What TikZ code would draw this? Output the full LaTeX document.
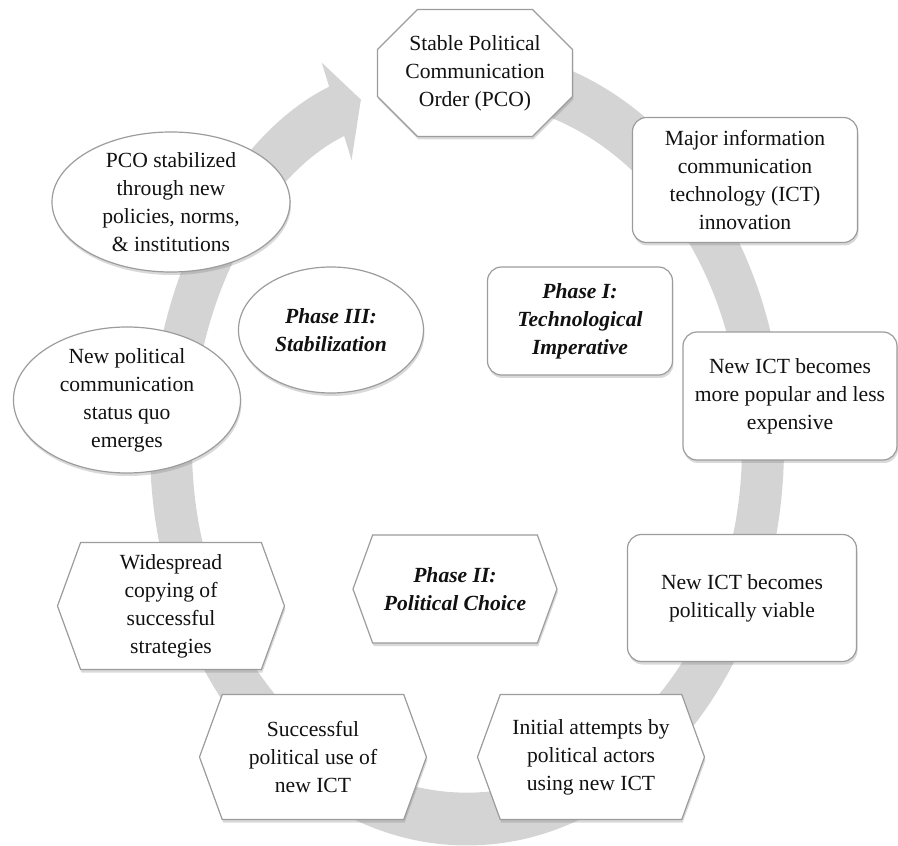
\documentclass[tikz,border=0pt]{standalone}
\usepackage{fontspec}
\setmainfont{Liberation Serif}
\usetikzlibrary{arrows.meta,shapes.geometric,shapes.misc,shapes.symbols,shadows}
\definecolor{ringgray}{HTML}{D4D4D4}
\definecolor{rim}{HTML}{9C9C9C}
\definecolor{ink}{HTML}{111111}

\begin{document}
\begin{tikzpicture}[x=1pt, y=1pt,
  font=\fontsize{21.6}{28}\selectfont, text=ink,
  stage/.style={draw=rim, line width=1.2pt, fill=white, align=center, inner sep=3pt,
    drop shadow={opacity=0.3, shadow xshift=1pt, shadow yshift=-3pt}},
  rnd/.style={stage, rounded corners=14pt},
  oct/.style={stage, chamfered rectangle, chamfered rectangle xsep=18pt, chamfered rectangle ysep=22pt},
  hex/.style={stage, signal, signal to=east and west, signal pointer angle=140},
  oval/.style={stage, ellipse, inner ysep=-4pt},
  phase/.style={font=\fontsize{21.6}{28}\selectfont\bfseries\itshape},
  cyclearrow/.style={draw=ringgray, line width=42pt, -{Triangle[length=26pt, width=82pt]}}]
  \useasboundingbox (-467,-399) rectangle (431,447);
  \begin{scope}[transform canvas={yscale=1.257}]
    \draw[cyclearrow] (90:296) arc[start angle=90, end angle=-249, radius=296];
  \end{scope}
  \node[oct, minimum width=195pt, minimum height=127pt] (pco) at (8,374) {Stable Political\\Communication\\Order (PCO)};
  \node[rnd, minimum width=225pt, minimum height=125pt] (major) at (278,267) {Major information\\communication\\technology (ICT)\\innovation};
  \node[rnd, minimum width=214pt, minimum height=128pt] (popular) at (323,51) {New ICT becomes\\more popular and less\\expensive};
  \node[rnd, minimum width=229pt, minimum height=127pt] (viable) at (275,-151) {New ICT becomes\\politically viable};
  \node[hex, minimum width=227pt, minimum height=125pt] (initial) at (124,-310) {Initial attempts by\\political actors\\using new ICT};
  \node[hex, minimum width=227pt, minimum height=125pt] (success) at (-154,-310) {Successful\\political use of\\new ICT};
  \node[hex, minimum width=227pt, minimum height=127pt] (copying) at (-296,-159) {Widespread\\copying of\\successful\\strategies};
  \node[oval, minimum width=227pt, minimum height=146pt] (statusquo) at (-340,47) {New political\\communication\\status quo\\emerges};
  \node[oval, minimum width=238pt, minimum height=140pt] (stabilized) at (-296,245) {PCO stabilized\\through new\\policies, norms,\\\& institutions};
  \node[rnd, phase, minimum width=185pt, minimum height=108pt] (phaseone) at (113,126) {Phase I:\\Technological\\Imperative};
  \node[hex, phase, minimum width=204pt, minimum height=108pt] (phasetwo) at (-12,-142) {Phase II:\\Political Choice};
  \node[oval, phase, minimum width=185pt, minimum height=126pt] (phasethree) at (-136,117) {Phase III:\\Stabilization};
\end{tikzpicture}
\end{document}
